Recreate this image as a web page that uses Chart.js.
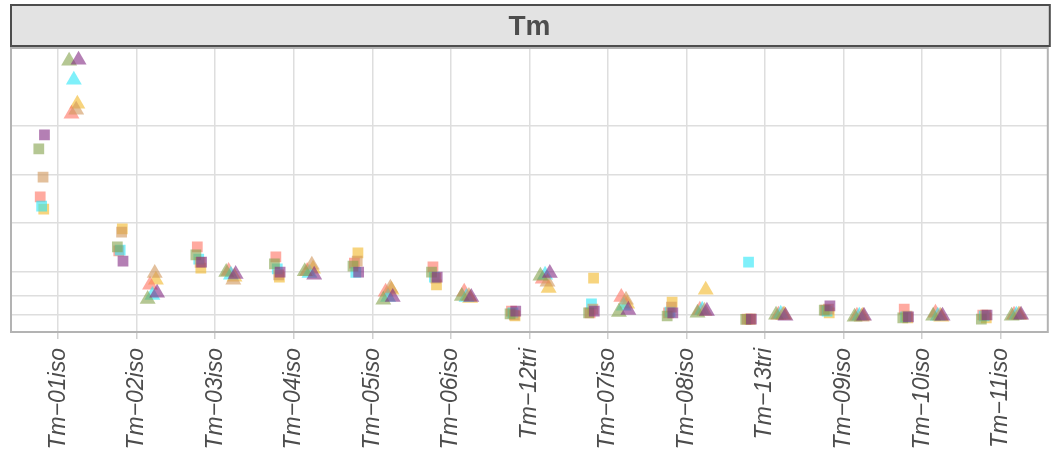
<!DOCTYPE html>
<html>
<head>
<meta charset="utf-8">
<script src="https://cdn.jsdelivr.net/npm/chart.js@4/dist/chart.umd.min.js"></script>
<style>
html,body{margin:0;padding:0;background:#ffffff;}
#wrap{width:1057px;height:452px;position:relative;}
</style>
</head>
<body>
<div id="wrap"><canvas id="c" width="1057" height="452"></canvas></div>
<script>
// ---------- data ----------
const panelTitle = 'Tm';
const categories = ['Tm\u221201iso','Tm\u221202iso','Tm\u221203iso','Tm\u221204iso','Tm\u221205iso','Tm\u221206iso',
  'Tm\u221212tri','Tm\u221207iso','Tm\u221208iso','Tm\u221213tri','Tm\u221209iso','Tm\u221210iso','Tm\u221211iso'];
// y axis uses a square-root scale; grid breaks (no labels shown)
const yBreaks = [1, 25, 100, 400, 900, 1600];

const seriesNames = ['S1','S2','S3','S4','S5','S6'];

// square markers
const sqS1 = [1453, 147, 142, 97, 97, 78, 3.3, 3.3, 2.0, 0.03, 8.2, 0.35, 1.0];
const sqS2 = [1241, 226, 179, 133, 123, 97, 1.5, 2.0, 0.63, 0.01, 4.1, 0.15, 0.03];
const sqS3 = [867, 328, 140, 86, 147, 74, 1.0, 5.0, 7.0, 0.03, 5.0, 0.63, 1.0];
const sqS5 = [551, 207, 157, 110, 96, 78, 2.0, 10.7, 2.6, 142, 3.3, 0.35, 0.63];
const sqS4 = [642, 202, 226, 168, 137, 119, 3.3, 2.0, 2.0, 0.03, 4.1, 5.0, 1.0];
const sqS6 = [522, 351, 114, 78, 190, 52, 0.63, 74, 13.5, 0.03, 2.0, 0.15, 0.15];

// triangle markers
const trS1 = [2871, 31, 89, 86, 22, 22, 93, 4.1, 3.3, 0.63, 0.63, 0.63, 1.0];
const trS2 = [2848, 18, 97, 100, 17, 24, 82, 2.6, 2.0, 1.0, 0.35, 0.63, 0.63];
const trS3 = [1872, 93, 68, 128, 43, 24, 61, 17, 3.3, 1.0, 0.35, 0.63, 1.0];
const trS5 = [2446, 26, 86, 93, 22, 22, 86, 8.2, 4.1, 1.45, 0.63, 0.63, 1.0];
const trS4 = [1801, 52, 101, 101, 33, 33, 71, 22, 4.1, 1.0, 0.63, 2.0, 1.0];
const trS6 = [1981, 68, 78, 110, 38, 20, 43, 10.7, 38, 1.0, 0.63, 0.35, 1.0];

// ---------- styling ----------
const seriesColors = {
  S1: 'rgba(130,42,130,0.6)',
  S2: 'rgba(132,162,75,0.6)',
  S3: 'rgba(208,150,90,0.6)',
  S4: 'rgba(255,113,97,0.6)',
  S5: 'rgba(42,230,247,0.6)',
  S6: 'rgba(242,183,40,0.6)'
};
const drawOrder = ['S1','S2','S3','S5','S4','S6'];
const squareData = {S1: sqS1, S2: sqS2, S3: sqS3, S4: sqS4, S5: sqS5, S6: sqS6};
const triangleData = {S1: trS1, S2: trS2, S3: trS3, S4: trS4, S5: trS5, S6: trS6};
const seriesShift = {S1: 0.06, S2: -0.06, S3: 0.03, S4: -0.03, S5: 0.0, S6: 0.045};
const SQ_DODGE = -0.21, TR_DODGE = 0.2;

function toPoints(vals, dodge, shift) {
  return vals.map((v, i) => ({x: i + dodge + shift, y: Math.sqrt(v)}));
}

const datasets = [];
drawOrder.forEach(s => {
  datasets.push({
    label: s + ' square', data: toPoints(squareData[s], SQ_DODGE, seriesShift[s] * 0.6),
    pointStyle: 'rect', pointRadius: 7.6, backgroundColor: seriesColors[s],
    borderWidth: 0, pointBorderWidth: 0
  });
});
drawOrder.forEach(s => {
  datasets.push({
    label: s + ' triangle', data: toPoints(triangleData[s], TR_DODGE, seriesShift[s]),
    pointStyle: 'triangle', pointRadius: 9.2, backgroundColor: seriesColors[s],
    borderWidth: 0, pointBorderWidth: 0
  });
});

const facetPlugin = {
  id: 'facet',
  beforeDraw(chart) {
    const ctx = chart.ctx;
    ctx.save();
    ctx.fillStyle = '#ffffff';
    ctx.fillRect(0, 0, chart.width, chart.height);
    const a = chart.chartArea;
    // strip
    ctx.fillStyle = '#e3e3e3';
    ctx.fillRect(11, 5, a.right - 11 + 2, 41);
    ctx.strokeStyle = '#4d4d4d';
    ctx.lineWidth = 2;
    ctx.strokeRect(11, 5, a.right - 11 + 2, 41);
    ctx.fillStyle = '#4d4d4d';
    ctx.font = 'bold 28px "Liberation Sans", Arial, sans-serif';
    ctx.textAlign = 'center';
    ctx.textBaseline = 'alphabetic';
    ctx.fillText(panelTitle, (a.left + a.right) / 2, 35);
    ctx.restore();
  },
  afterDatasetsDraw(chart) {
    const ctx = chart.ctx;
    const a = chart.chartArea;
    ctx.save();
    ctx.strokeStyle = '#b3b3b3';
    ctx.lineWidth = 2;
    ctx.strokeRect(a.left, a.top, a.right - a.left, a.bottom - a.top);
    ctx.restore();
  }
};

new Chart(document.getElementById('c'), {
  type: 'scatter',
  data: {datasets},
  options: {
    responsive: false,
    animation: false,
    devicePixelRatio: 1,
    layout: {padding: {left: 11, right: 6, top: 48, bottom: 0}},
    plugins: {legend: {display: false}, tooltip: {enabled: false}},
    scales: {
      x: {
        type: 'linear', min: -0.6, max: 12.6,
        afterBuildTicks: s => { s.ticks = categories.map((c, i) => ({value: i})); },
        afterFit: s => { s.height = 120; },
        border: {display: false},
        grid: {color: '#dedede', lineWidth: 1.5, tickLength: 7, tickColor: '#d0d0d0'},
        ticks: {
          autoSkip: false, minRotation: 90, maxRotation: 90, padding: 9,
          color: '#4d4d4d',
          font: {family: '"Liberation Sans", Arial, sans-serif', size: 23, style: 'italic'},
          callback: v => categories[v]
        }
      },
      y: {
        type: 'linear', min: -2.505, max: 56.05,
        afterBuildTicks: s => { s.ticks = yBreaks.map(b => ({value: Math.sqrt(b)})); },
        afterFit: s => { s.width = 0; },
        border: {display: false},
        grid: {color: '#dedede', lineWidth: 1.5, drawTicks: false},
        ticks: {display: false}
      }
    }
  },
  plugins: [facetPlugin]
});
</script>
</body>
</html>
